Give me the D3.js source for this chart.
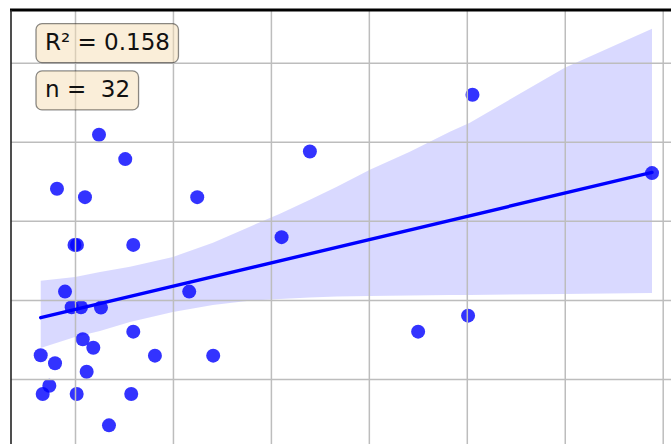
<!DOCTYPE html>
<html>
<head>
<meta charset="utf-8">
<script src="https://cdn.jsdelivr.net/npm/d3@7/dist/d3.min.js"></script>
<style>
  html, body { margin: 0; padding: 0; background: #fff; overflow: hidden; }
  svg { display: block; font-family: "DejaVu Sans", sans-serif; }
</style>
</head>
<body>
<svg id="chart" width="671" height="444"></svg>
<script>
// Observations (x, y)
const xVals = [0.245, 0.513, -0.184, 0.102, 1.248, -0.005, 0.020, 0.595,
               -0.102, -0.034, 0.061, 0.265, 1.166, 0.595, 0.079, 0.187,
               -0.350, -0.204, 0.816, 1.411, 0.119, -0.262, -0.330, 0.017,
               0.574, 0.347, 2.109, 2.398, 4.058, 5.891, 3.503, 4.013];
const yVals = [3.089, 2.781, 2.405, 2.300, 2.300, 1.696, 1.696, 1.696,
               1.105, 0.908, 0.908, 0.903, 1.105, 0.599, 0.503, 0.396,
               0.300, 0.199, 0.295, 0.295, 0.092, -0.085, -0.190, -0.190,
               -0.190, -0.586, 1.794, 2.877, 3.595, 2.604, 0.599, 0.801];

// Bootstrapped confidence band of the fit
const ciX    = [-0.350, 0.000, 0.255, 0.561, 1.000, 1.408, 1.755, 2.092,
                2.398, 2.673, 3.010, 3.418, 3.827, 4.031, 5.000, 5.891];
const ciLow  = [0.392, 0.532, 0.608, 0.722, 0.848, 0.937, 0.987, 1.013,
                1.032, 1.044, 1.051, 1.057, 1.063, 1.063, 1.076, 1.089];
const ciHigh = [1.241, 1.291, 1.354, 1.418, 1.544, 1.722, 1.911, 2.089,
                2.266, 2.430, 2.646, 2.873, 3.127, 3.241, 3.937, 4.430];

// Grid positions
const xTicks = [0, 1, 2, 3, 4, 5, 6];
const yTicks = [0, 1, 2, 3, 4];

const W = 671, H = 444;
const plotLeft = 11, plotTop = 10, plotRight = W, plotBottom = H;

const svg = d3.select("#chart");

const x = d3.scaleLinear().domain([0, 6]).range([75, 662.7]);
const y = d3.scaleLinear().domain([0, 4]).range([379, 62.7]);

svg.append("defs").append("clipPath").attr("id", "plot-clip")
  .append("rect")
  .attr("x", plotLeft).attr("y", plotTop)
  .attr("width", plotRight - plotLeft).attr("height", plotBottom - plotTop);

const plot = svg.append("g").attr("clip-path", "url(#plot-clip)");

// Least-squares fit
const n = xVals.length;
const mx = d3.mean(xVals), my = d3.mean(yVals);
let sxy = 0, sxx = 0, syy = 0;
for (let i = 0; i < n; i++) {
  const dx = xVals[i] - mx, dy = yVals[i] - my;
  sxy += dx * dy; sxx += dx * dx; syy += dy * dy;
}
const slope = sxy / sxx;
const intercept = my - slope * mx;
const r2 = (sxy * sxy) / (sxx * syy);

// Scatter
plot.append("g")
  .selectAll("circle")
  .data(d3.range(n))
  .join("circle")
  .attr("cx", i => x(xVals[i]))
  .attr("cy", i => y(yVals[i]))
  .attr("r", 7)
  .attr("fill", "#0000ff")
  .attr("fill-opacity", 0.8);

// Confidence band
const area = d3.area()
  .x((d, i) => x(ciX[i]))
  .y0((d, i) => y(ciLow[i]))
  .y1((d, i) => y(ciHigh[i]));
plot.append("path")
  .datum(ciX)
  .attr("d", area)
  .attr("fill", "#0000ff")
  .attr("fill-opacity", 0.15);

// Grid
const gx = plot.append("g")
  .attr("transform", `translate(0,${plotBottom})`)
  .call(d3.axisBottom(x).tickValues(xTicks)
        .tickSize(-(plotBottom - plotTop)).tickFormat(""));
const gy = plot.append("g")
  .attr("transform", `translate(${plotLeft},0)`)
  .call(d3.axisLeft(y).tickValues(yTicks)
        .tickSize(-(plotRight - plotLeft)).tickFormat(""));
[gx, gy].forEach(g => {
  g.select(".domain").remove();
  g.selectAll(".tick line").attr("stroke", "#bdbdbd").attr("stroke-width", 1.5);
});

// Regression line
const xMin = d3.min(xVals), xMax = d3.max(xVals);
plot.append("line")
  .attr("x1", x(xMin)).attr("y1", y(intercept + slope * xMin))
  .attr("x2", x(xMax)).attr("y2", y(intercept + slope * xMax))
  .attr("stroke", "#0000ff")
  .attr("stroke-width", 3.4)
  .attr("stroke-linecap", "round");

// Frame
svg.append("line")
  .attr("x1", plotLeft - 1).attr("x2", W)
  .attr("y1", plotTop).attr("y2", plotTop)
  .attr("stroke", "#000").attr("stroke-width", 3);
svg.append("line")
  .attr("x1", plotLeft).attr("x2", plotLeft)
  .attr("y1", plotTop).attr("y2", H)
  .attr("stroke", "#222").attr("stroke-width", 1.6);

// Statistic boxes
const labels = [
  { text: "R\u00b2 = " + d3.format(".3f")(r2), baseline: 50 },
  { text: "n =  " + n, baseline: 97.3 }
];
labels.forEach(l => {
  const g = svg.append("g");
  const t = g.append("text")
    .attr("x", 45).attr("y", l.baseline)
    .attr("font-size", 23)
    .attr("fill", "#111")
    .style("white-space", "pre")
    .text(l.text);
  const bb = t.node().getBBox();
  g.insert("rect", "text")
    .attr("x", bb.x - 9).attr("y", bb.y - 5.4)
    .attr("width", bb.width + 17.5).attr("height", bb.height + 13)
    .attr("rx", 6).attr("ry", 6)
    .attr("fill", "#f5deb3").attr("fill-opacity", 0.5)
    .attr("stroke", "#000").attr("stroke-opacity", 0.45)
    .attr("stroke-width", 1.3);
});
</script>
</body>
</html>
